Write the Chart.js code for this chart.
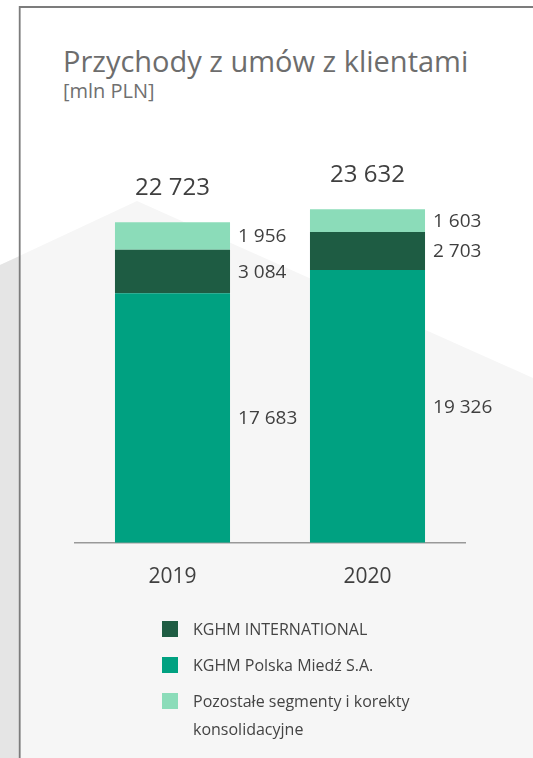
<!DOCTYPE html>
<html lang="pl">
<head>
<meta charset="utf-8">
<title>Przychody z umów z klientami</title>
<script src="https://cdn.jsdelivr.net/npm/chart.js@4.4.1/dist/chart.umd.min.js"></script>
<style>
    html, body {
        margin: 0;
        padding: 0;
        width: 533px;
        height: 758px;
        overflow: hidden;
        background: #fff;
        font-family: "Open Sans", sans-serif;
    }
    .bg {
        position: absolute;
        left: 0;
        top: 0;
    }
    #chart {
        position: absolute;
        left: 0;
        top: 0;
    }
    .title {
        position: absolute;
        left: 63px;
        top: 46px;
        font-size: 29px;
        line-height: 29px;
        color: #6d6d6d;
        white-space: nowrap;
    }
    .subtitle {
        position: absolute;
        left: 63px;
        top: 81px;
        font-size: 20px;
        line-height: 20px;
        color: #707070;
    }
    .legend {
        position: absolute;
        left: 162px;
        top: 615px;
        margin: 0;
        padding: 0;
        list-style: none;
    }
    .legend li {
        display: flex;
        align-items: flex-start;
        margin-bottom: 8px;
        font-size: 16px;
        line-height: 28px;
        color: #444;
    }
    .legend .box {
        flex: none;
        width: 16px;
        height: 16px;
        margin-top: 6px;
        margin-right: 15px;
    }
</style>
</head>
<body>
<svg class="bg" width="533" height="758">
    <polygon points="0,265 137,201 533,378 533,758 0,758" fill="#f6f6f6"/>
    <polygon points="0,265 19.7,256 19.7,758 0,758" fill="#e5e5e5"/>
    <path d="M19.7,758 V7 H533" fill="none" stroke="#7c7c7c" stroke-width="1.8"/>
</svg>
<div class="title">Przychody z umów z klientami</div>
<div class="subtitle">[mln PLN]</div>
<canvas id="chart" width="533" height="624"></canvas>
<ul class="legend" id="legend"></ul>

<script>
// Data [mln PLN]
const years = ['2019', '2020'];
const polskaMiedz = [17683, 19326];
const international = [3084, 2703];
const pozostale = [1956, 1603];

const seriesNames = ['KGHM Polska Miedź S.A.', 'KGHM INTERNATIONAL', 'Pozostałe segmenty i korekty konsolidacyjne'];
const seriesColors = ['#00a181', '#1e5c43', '#8bdcb9'];
const legendOrder = [1, 0, 2];

function fmt(n) {
    return String(n).replace(/\B(?=(\d{3})+(?!\d))/g, ' ');
}

// Value labels next to segments and totals above stacks
const valueLabels = {
    id: 'valueLabels',
    afterDatasetsDraw(chart) {
        const ctx = chart.ctx;
        ctx.save();
        ctx.fillStyle = '#3f3f3f';
        ctx.textBaseline = 'middle';

        ctx.font = '19px "Open Sans"';
        ctx.textAlign = 'left';
        chart.data.datasets.forEach((ds, di) => {
            chart.getDatasetMeta(di).data.forEach((bar, i) => {
                const y = (bar.y + bar.base) / 2;
                ctx.fillText(fmt(ds.data[i]), bar.x + bar.width / 2 + 8, y + 1);
            });
        });

        ctx.font = '24px "Open Sans"';
        ctx.textAlign = 'center';
        const top = chart.getDatasetMeta(chart.data.datasets.length - 1);
        top.data.forEach((bar, i) => {
            const total = chart.data.datasets.reduce((s, ds) => s + ds.data[i], 0);
            ctx.fillText(fmt(total), bar.x, bar.y - 34);
        });
        ctx.restore();
    }
};

function draw() {
    const ctx = document.getElementById('chart').getContext('2d');
    new Chart(ctx, {
        type: 'bar',
        data: {
            labels: years,
            datasets: [
                { label: seriesNames[0], data: polskaMiedz, backgroundColor: seriesColors[0] },
                { label: seriesNames[1], data: international, backgroundColor: seriesColors[1] },
                { label: seriesNames[2], data: pozostale, backgroundColor: seriesColors[2] }
            ]
        },
        options: {
            responsive: false,
            animation: false,
            devicePixelRatio: 1,
            barPercentage: 0.59,
            categoryPercentage: 1,
            layout: {
                padding: { top: 190, left: 75, right: 68, bottom: 12 }
            },
            scales: {
                x: {
                    stacked: true,
                    grid: { display: false, drawTicks: false },
                    border: { display: true, color: '#999', width: 1.5 },
                    ticks: {
                        color: '#3f3f3f',
                        padding: 22,
                        font: { family: 'Open Sans', size: 21 }
                    }
                },
                y: {
                    stacked: true,
                    display: false,
                    min: 0,
                    max: 25000
                }
            },
            plugins: {
                legend: { display: false },
                tooltip: { enabled: false }
            }
        },
        plugins: [valueLabels]
    });

    const legend = document.getElementById('legend');
    legendOrder.forEach(k => {
        const li = document.createElement('li');
        const box = document.createElement('span');
        box.className = 'box';
        box.style.background = seriesColors[k];
        const txt = document.createElement('span');
        txt.textContent = seriesNames[k];
        if (k === 2) txt.style.width = '245px';
        li.appendChild(box);
        li.appendChild(txt);
        legend.appendChild(li);
    });
}

document.fonts.load('21px "Open Sans"').then(draw, draw);
</script>
</body>
</html>
